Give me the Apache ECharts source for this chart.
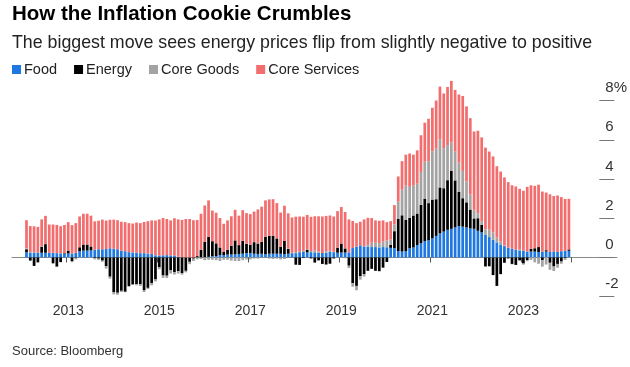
<!DOCTYPE html>
<html>
<head>
<meta charset="utf-8">
<script src="https://cdn.jsdelivr.net/npm/echarts@6/dist/echarts.min.js"></script>
<style>
html,body{margin:0;padding:0;background:#fff;}
#chart{width:630px;height:367px;}
</style>
</head>
<body>
<div id="chart"></div>
<script>
// Monthly categories (as labelled on the chart): Feb 2012 .. Jan 2024
const startYear = 2012, startMonth = 2, monthCount = 144;
const months = [];
for (let k = 0; k < monthCount; k++) {
  const m0 = startMonth - 1 + k;
  const y = startYear + Math.floor(m0 / 12);
  const m = (m0 % 12) + 1;
  months.push(y + '-' + (m < 10 ? '0' + m : m));
}
const yearTicks = ['2013', '2015', '2017', '2019', '2021', '2023'];
const yTicks = [-2, 0, 2, 4, 6, 8];

// contributions, percentage points
const food = [
  0.26,0.25,0.25,0.24,0.24,0.24,0.24,0.24,0.22,0.21,0.19,
  0.2,0.2,0.24,0.32,0.35,0.35,0.36,0.39,0.42,0.42,0.43,0.47,
  0.45,0.42,0.34,0.32,0.27,0.25,0.25,0.22,0.22,0.2,0.18,0.11,
  0.1,0.11,0.12,0.1,0.1,0.04,0.01,0.0,0.0,0.0,0.0,0.0,
  0.01,0.03,0.07,0.07,0.12,0.12,0.15,0.15,0.16,0.18,0.19,0.22,
  0.23,0.19,0.18,0.19,0.16,0.19,0.19,0.19,0.19,0.16,0.19,0.22,
  0.22,0.27,0.28,0.26,0.27,0.26,0.24,0.23,0.24,0.28,0.27,0.24,
  0.25,0.25,0.26,0.48,0.55,0.62,0.56,0.56,0.53,0.53,0.51,0.53,
  0.52,0.49,0.48,0.33,0.3,0.33,0.47,0.51,0.63,0.73,0.84,0.87,
  0.98,1.1,1.23,1.32,1.41,1.46,1.53,1.6,1.57,1.53,1.48,1.46,
  1.36,1.28,1.15,1.04,0.9,0.77,0.66,0.58,0.5,0.45,0.39,0.36,
  0.35,0.3,0.3,0.3,0.28,0.3,0.3,0.28,0.31,0.28,0.32,0.34,
  0.34
];
const energy = [
  0.16,-0.16,-0.43,-0.25,0.3,0.44,0.0,-0.3,-0.47,-0.23,0.03,
  0.15,-0.2,-0.02,0.2,0.31,0.31,0.2,-0.04,-0.06,-0.16,-0.45,-0.98,
  -1.76,-1.8,-1.7,-1.75,-1.47,-1.38,-1.36,-1.37,-1.68,-1.55,-1.3,-1.12,
  -0.5,-0.92,-0.93,-0.66,-0.75,-0.7,-0.8,-0.68,-0.22,-0.06,0.07,0.39,
  0.78,1.02,0.76,0.65,0.39,0.16,0.24,0.45,0.71,0.45,0.66,0.48,
  0.42,0.59,0.53,0.6,0.89,0.91,0.92,0.78,0.36,0.68,0.24,0.0,
  -0.37,-0.38,-0.03,0.13,-0.05,-0.26,-0.15,-0.33,-0.36,-0.32,-0.05,0.26,
  0.46,0.21,-0.42,-1.31,-1.45,-0.95,-0.85,-0.68,-0.58,-0.68,-0.7,-0.52,
  -0.23,0.16,0.86,1.63,1.85,1.59,1.55,1.63,1.61,1.95,2.16,1.9,
  1.97,1.87,2.34,2.21,2.53,2.95,2.4,1.74,1.45,1.28,0.96,0.53,
  0.64,0.38,-0.46,-0.45,-0.9,-1.45,-0.85,-0.27,-0.05,-0.33,-0.38,-0.15,
  -0.31,-0.13,0.14,0.17,0.25,-0.13,0.07,-0.27,-0.46,-0.33,-0.21,-0.03,
  0.07
];
const coreGoods = [
  0.04,0.03,0.02,0.0,0.02,0.0,-0.02,0.0,-0.02,-0.02,0.0,
  -0.02,-0.04,-0.08,-0.02,0.0,0.0,-0.02,-0.06,-0.06,-0.06,-0.12,-0.1,
  -0.12,-0.1,-0.06,-0.02,0.0,-0.02,-0.06,-0.08,-0.08,-0.06,-0.12,-0.1,
  -0.1,-0.12,-0.12,-0.16,-0.12,-0.12,-0.08,-0.08,-0.12,-0.12,-0.1,-0.08,
  -0.14,-0.12,-0.12,-0.14,-0.18,-0.12,-0.12,-0.16,-0.18,-0.18,-0.14,-0.1,
  -0.1,-0.06,-0.06,-0.02,-0.02,-0.06,-0.08,-0.06,-0.1,-0.08,0.02,0.02,
  0.06,0.02,0.06,0.04,0.06,0.1,0.06,0.0,0.08,0.06,0.02,-0.02,
  -0.02,-0.04,-0.12,-0.18,-0.22,-0.18,-0.12,0.08,0.22,0.22,0.22,0.28,
  0.34,0.26,0.34,0.88,1.3,1.74,1.58,1.52,1.52,1.68,1.88,2.14,
  2.46,2.58,2.46,2.04,1.79,1.45,1.47,1.49,1.39,1.07,0.78,0.44,
  0.25,0.19,0.29,0.38,0.38,0.25,0.15,0.04,0.0,-0.02,0.0,0.04,
  -0.06,-0.06,-0.13,-0.25,-0.32,-0.34,-0.36,-0.36,-0.23,-0.19,-0.11,-0.1,
  -0.02
];
const coreServices = [
  1.44,1.32,1.32,1.32,1.38,1.44,1.44,1.44,1.44,1.38,1.44,
  1.45,1.45,1.51,1.57,1.57,1.57,1.57,1.45,1.45,1.51,1.45,1.45,
  1.48,1.48,1.48,1.48,1.48,1.48,1.53,1.53,1.59,1.65,1.71,1.77,
  1.84,1.9,1.84,1.79,1.9,1.9,1.9,1.96,1.96,1.9,1.84,1.84,
  1.86,1.86,1.56,1.56,1.5,1.44,1.5,1.5,1.56,1.5,1.56,1.56,
  1.56,1.56,1.74,1.8,1.86,1.86,1.86,1.8,1.74,1.8,1.8,1.8,
  1.8,1.8,1.74,1.74,1.74,1.74,1.8,1.86,1.8,1.8,1.8,1.86,
  1.86,1.86,1.68,1.38,1.2,1.2,1.38,1.38,1.26,1.14,1.14,1.08,
  0.94,0.94,0.99,1.29,1.46,1.58,1.7,1.58,1.7,1.87,1.99,2.16,
  2.22,2.45,2.68,2.79,2.96,3.14,3.14,3.48,3.82,3.82,3.88,3.99,
  4.21,4.27,4.16,3.98,3.87,3.63,3.57,3.46,3.34,3.23,3.23,3.1,
  3.05,3.3,3.24,3.18,3.18,3.06,2.94,2.94,2.82,2.88,2.76,2.64,
  2.58
];

const seriesNames = ['Food', 'Energy', 'Core Goods', 'Core Services'];
const seriesData = [food, energy, coreGoods, coreServices];
const colors = ['#1f78e0', '#000000', '#a3a3a3', '#f26e6e'];

const Y_MIN = -2, Y_MAX = 9.5;
const FONT = '"Liberation Sans", Arial, sans-serif';

function isYearTick(index) {
  const c = months[index];
  return c.slice(5) === '01' && yearTicks.indexOf(c.slice(0, 4)) >= 0;
}

const chart = echarts.init(document.getElementById('chart'), null, {renderer: 'canvas'});
chart.setOption({
  animation: false,
  color: colors,
  textStyle: {fontFamily: FONT},
  title: [
    {text: 'How the Inflation Cookie Crumbles', left: 7, top: -1,
     textStyle: {fontFamily: FONT, fontSize: 20.5, fontWeight: 'bold', color: '#000'}},
    {text: 'The biggest move sees energy prices flip from slightly negative to positive', left: 7, top: 29,
     textStyle: {fontFamily: FONT, fontSize: 17.8, fontWeight: 'normal', color: '#222'}},
    {text: 'Source: Bloomberg', left: 7, top: 340,
     textStyle: {fontFamily: FONT, fontSize: 13, fontWeight: 'normal', color: '#333'}}
  ],
  legend: {
    left: 7, top: 57, icon: 'rect', itemWidth: 9, itemHeight: 9, itemGap: 17,
    textStyle: {fontFamily: FONT, fontSize: 14.5, color: '#222', padding: [0, 0, 0, -2]},
    data: seriesNames
  },
  grid: [
    {left: 24.6, right: 630 - 573.5, top: 71.1, bottom: 367 - 296.7, containLabel: false},
    {left: 12, right: 13, top: 71.1, bottom: 367 - 296.7, containLabel: false}
  ],
  xAxis: [
    {
      type: 'category', gridIndex: 0, data: months, boundaryGap: true,
      axisLine: {show: false},
      axisTick: {show: true, interval: isYearTick, length: 5, lineStyle: {color: '#555'}},
      axisLabel: {show: true, interval: isYearTick, margin: 7,
        formatter: (v) => v.slice(0, 4), color: '#333', fontSize: 14, fontFamily: FONT},
      splitLine: {show: false}
    },
    {
      type: 'value', gridIndex: 1, min: 0, max: 1, show: true,
      axisLine: {show: true, onZero: true, lineStyle: {color: '#8a8a8a', width: 1}},
      axisTick: {show: false}, axisLabel: {show: false}, splitLine: {show: false}
    }
  ],
  yAxis: [
    {
      type: 'value', gridIndex: 0, position: 'right', min: Y_MIN, max: Y_MAX, offset: 602 - 573.5,
      axisLine: {show: false},
      axisTick: {show: true, length: 15, customValues: yTicks, lineStyle: {color: '#777'}},
      axisLabel: {show: true, customValues: yTicks, margin: 6, align: 'left', verticalAlign: 'bottom',
        padding: [0, 0, 5, 0], color: '#333', fontSize: 15, fontFamily: FONT,
        formatter: (v) => (v === 8 ? v + '%' : String(v))},
      splitLine: {show: false}
    },
    {type: 'value', gridIndex: 1, min: Y_MIN, max: Y_MAX, show: false}
  ],
  series: seriesNames.map((name, k) => ({
    name: name, type: 'bar', stack: 'total', xAxisIndex: 0, yAxisIndex: 0,
    barCategoryGap: '28%', data: seriesData[k],
    itemStyle: {color: colors[k]}
  }))
});
</script>
</body>
</html>
